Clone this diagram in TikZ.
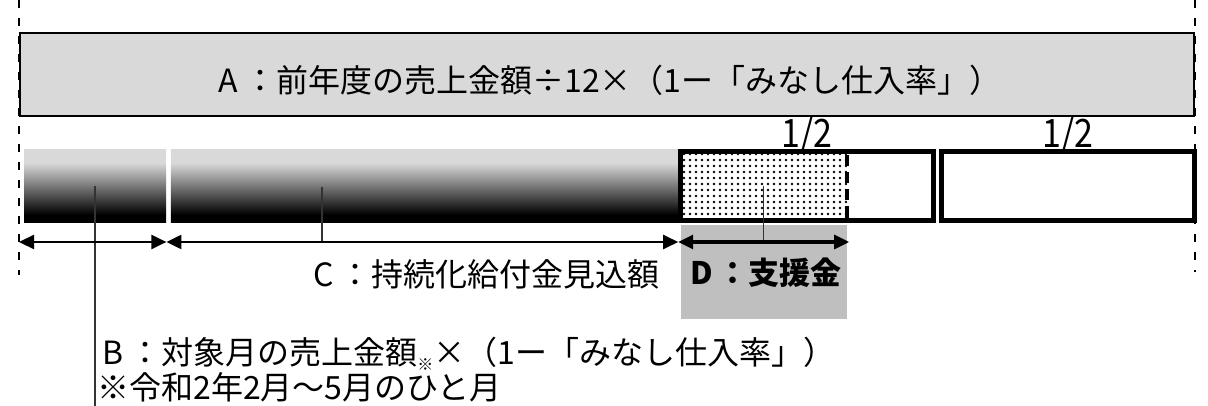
\documentclass[tikz,border=0pt]{standalone}
\usepackage{fontspec}
\setmainfont{Noto Sans CJK JP}
\usepackage{graphicx}
\usepackage{xcolor}
\usepackage{tikz}
\usetikzlibrary{shapes,arrows.meta,positioning,calc,patterns.meta}

\newcommand{\fw}[1]{\makebox[1em]{#1}}
\colorlet{barlight}{gray!30}
\pgfdeclareverticalshading{barshade}{100bp}{color(0bp)=(black); color(30bp)=(black); color(66bp)=(barlight); color(100bp)=(barlight)}

\begin{document}
\begin{tikzpicture}[x=0.5pt, y=-0.5pt, node distance=2pt,
    txt/.style={font=\fontsize{16pt}{16pt}\selectfont, inner sep=0pt},
    bar/.style={rectangle, shading=barshade, minimum height=36pt, inner sep=0pt},
    halfbox/.style={rectangle, draw, line width=2.5pt, minimum width=126.5pt, minimum height=34.5pt, inner sep=0pt},
    half/.style={anchor=base, inner sep=0pt, font=\fontsize{17pt}{17pt}\selectfont},
    dim/.style={{Triangle[length=7.5pt,width=7pt]}-{Triangle[length=7.5pt,width=7pt]}, line width=1.1pt},
    lead/.style={draw=black!80, line width=0.6pt},
    guide/.style={line width=1pt, dash pattern=on 4pt off 5pt}]
    \useasboundingbox (0,0) rectangle (1208,406);

    \coordinate (guideL) at (19,0);
    \coordinate (guideR) at (1195,0);
    \coordinate (dimrow) at (0,242);
    \coordinate (floor) at (0,406);
    \coordinate (cmark) at (322,187);

    \draw [guide] (guideL) -- ++(0,275);
    \draw [guide] (guideR) -- ++(0,272);

    \node (boxA) [rectangle, draw, line width=1pt, fill=gray!30, minimum width=587pt, minimum height=41.5pt] at (607,75) {};
    \node (textA) [txt] at (607,80) {\fw{A}：前年度の売上金額\fw{÷}12\fw{×}（1ー「みなし仕入率」）};

    \node (barB) [bar, minimum width=71pt] at (95,186) {};
    \node (barC) [bar, minimum width=253.5pt, right=2pt of barB] {};
    \node (dots) [rectangle, pattern={Dots[distance=3pt, radius=0.7pt]}, draw, line width=2pt, dash pattern=on 5.5pt off 3pt, minimum width=83.5pt, minimum height=34.5pt, inner sep=0pt, right=0pt of barC] {};
    \node (dbox) [halfbox, right=0pt of barC] {};
    \node (box2) [halfbox, right=1.5pt of dbox] {};

    \node (halfD) [half] at ([yshift=0.5pt]dbox.north) {\scalebox{1}[1.15]{1/2}};
    \node (half2) [half] at ([yshift=0.5pt]box2.north) {\scalebox{1}[1.15]{1/2}};

    \node (labD) [rectangle, fill=gray!50, minimum width=83pt, minimum height=47pt, inner sep=0pt, font=\fontsize{15.5pt}{15.5pt}\selectfont\bfseries, below=1.25pt of dots] {\fw{D}：支援金};
    \node (labC) [txt, anchor=east] at (660,274) {\fw{C}：持続化給付金見込額};
    \node (labB) [txt, anchor=west, align=left] at (97,370) {\fw{B}：対象月の売上金額\raisebox{-3pt}{\fontsize{8pt}{8pt}\selectfont ※}\fw{×}（1ー「みなし仕入率」）\\※令和2年2月～5月のひと月};

    % leaders
    \draw [lead] (barB.center) -- (barB.center |- floor);
    \draw [lead] (cmark) -- (cmark |- dimrow);
    \draw [lead] (dots.center) -- (dots.center |- dimrow);

    % dimension arrows
    \draw [dim] (guideL |- dimrow) -- (barB.east |- dimrow);
    \draw [dim] (barB.east |- dimrow) -- (barC.east |- dimrow);
    \draw [dim, line width=1.6pt] (dbox.west |- dimrow) -- (dots.east |- dimrow);
\end{tikzpicture}
\end{document}
